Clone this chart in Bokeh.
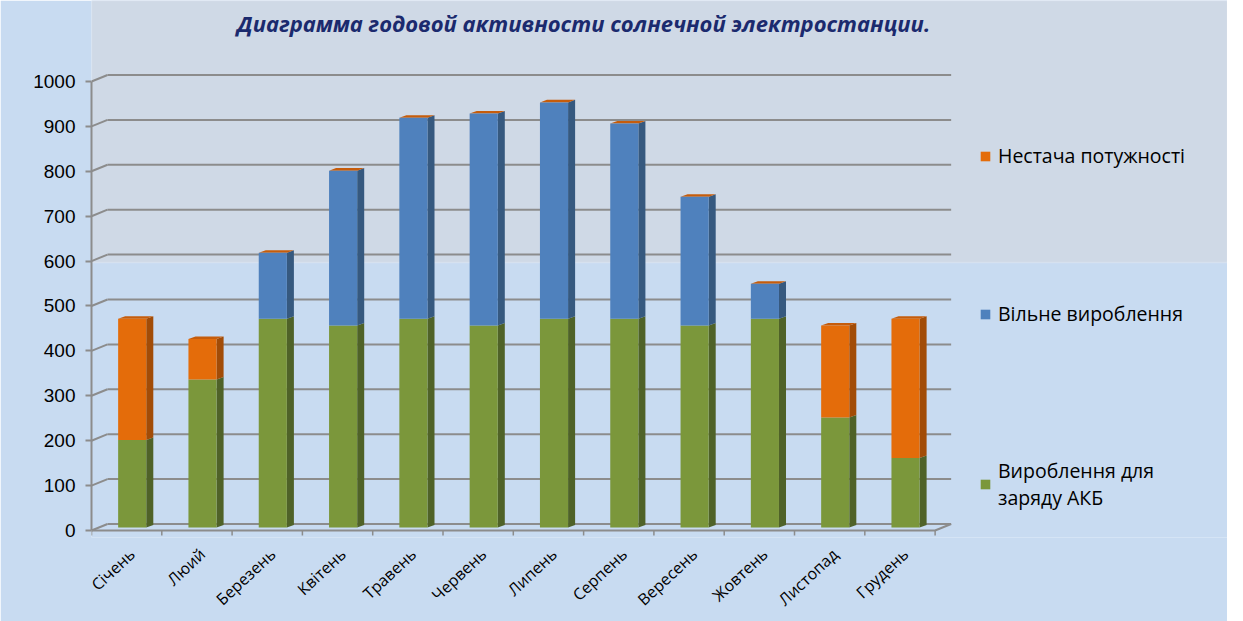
from bokeh.plotting import figure
from bokeh.models import Range1d, FixedTicker, Legend, LegendItem, Label, BoxAnnotation
from bokeh.embed import file_html
from bokeh.resources import INLINE

# ---------------- data ----------------
months = ["Січень", "Люий", "Березень", "Квітень", "Травень", "Червень",
          "Липень", "Серпень", "Вересень", "Жовтень", "Листопад", "Грудень"]
charge = [195, 330, 465, 450, 465, 450, 465, 465, 450, 465, 245, 155]      # Вироблення для заряду АКБ
free = [0, 0, 147, 345, 448, 472, 482, 435, 287, 78, 0, 0]                 # Вільне вироблення
shortage = [270, 90, 0, 0, 0, 0, 0, 0, 0, 0, 205, 310]                     # Нестача потужності
y_ticks = [0, 100, 200, 300, 400, 500, 600, 700, 800, 900, 1000]
series_names = ["Нестача потужності", "Вільне вироблення", "Вироблення для\nзаряду АКБ"]
title_text = "Диаграмма годовой активности солнечной электростанции."

# ---------------- style ----------------
G_FRONT, G_SIDE = "#7b973b", "#4f6228"
B_FRONT, B_SIDE = "#4f81bd", "#36597f"
O_FRONT, O_SIDE, O_TOP = "#e46c0a", "#a24c07", "#c65c0b"
GRID = "#8c8c8c"
SKY = "#c8dbf1"
PANEL = "#cfd9e6"

X0, X1 = -0.579, 15.58
Y0, Y1 = -15.59, 1180.4
HW, SDX, SDY, BO = 0.2, 0.1, 5.6, 6.5       # bar half-width, side depth, base offset
DXW, DYW = 0.228, 14.5                      # wall depth
xL = X0
xR = xL + 12 + DXW

p = figure(frame_width=1136, frame_height=537, output_backend="svg", toolbar_location=None,
           x_range=Range1d(X0, X1), y_range=Range1d(Y0, Y1),
           min_border_left=91, min_border_right=0, min_border_top=0, min_border_bottom=68)
p.background_fill_color = SKY
p.border_fill_color = SKY
p.outline_line_color = None
p.xgrid.grid_line_color = None
p.ygrid.grid_line_color = None

# background band (photo area)
p.add_layout(BoxAnnotation(bottom=597, fill_color=PANEL, fill_alpha=1.0,
                           line_color="#eef3f9", line_width=1.5, level="underlay"))

# back wall grid + left wall connectors
p.segment(x0=[xL + DXW] * len(y_ticks), y0=[v + DYW for v in y_ticks],
          x1=[xR] * len(y_ticks), y1=[v + DYW for v in y_ticks],
          line_color=GRID, line_width=2)
p.segment(x0=[xL] * len(y_ticks), y0=y_ticks,
          x1=[xL + DXW] * len(y_ticks), y1=[v + DYW for v in y_ticks],
          line_color=GRID, line_width=2)
# floor front edge
p.line(x=[xL, xL + 12, xR], y=[0, 0, DYW], line_color=GRID, line_width=2)
p.segment(x0=[xL + k for k in range(13)], y0=[0] * 13,
          x1=[xL + k for k in range(13)], y1=[-11] * 13,
          line_color=GRID, line_width=1.5)

# ---------------- bars ----------------
xs = list(range(len(months)))
g_bot = [BO] * len(xs)
g_top = [BO + c for c in charge]
b_top = [g_top[i] + free[i] for i in xs]
o_top = [b_top[i] + shortage[i] for i in xs]

side_xs, side_ys, side_c = [], [], []
for i in xs:
    for bot, top, col in ((g_bot[i], g_top[i], G_SIDE), (g_top[i], b_top[i], B_SIDE),
                          (b_top[i], o_top[i], O_SIDE)):
        if top > bot:
            xa = i + HW
            side_xs.append([xa, xa + SDX, xa + SDX, xa])
            side_ys.append([bot, bot + SDY, top + SDY, top])
            side_c.append(col)
p.patches(xs=side_xs, ys=side_ys, fill_color=side_c, line_color=None)
p.patches(xs=[[i - HW, i - HW + SDX, i + HW + SDX, i + HW] for i in xs],
          ys=[[o_top[i], o_top[i] + SDY, o_top[i] + SDY, o_top[i]] for i in xs],
          fill_color=O_TOP, line_color=None)

rg = p.vbar(x=xs, width=2 * HW, bottom=g_bot, top=g_top, fill_color=G_FRONT, line_color=None)
rb = p.vbar(x=xs, width=2 * HW, bottom=g_top, top=b_top, fill_color=B_FRONT, line_color=None)
ro = p.vbar(x=xs, width=2 * HW, bottom=b_top, top=o_top, fill_color=O_FRONT, line_color=None)

# ---------------- axes ----------------
p.yaxis.ticker = FixedTicker(ticks=y_ticks)
p.yaxis.bounds = (0, 1000)
p.yaxis.axis_line_color = GRID
p.yaxis.axis_line_width = 2
p.yaxis.major_tick_line_color = GRID
p.yaxis.major_tick_line_width = 2
p.yaxis.major_tick_out = 6
p.yaxis.major_tick_in = 0
p.yaxis.minor_tick_line_color = None
p.yaxis.major_label_standoff = 10
p.yaxis.major_label_text_font = "Liberation Sans"
p.yaxis.major_label_text_font_size = "19px"
p.yaxis.major_label_text_color = "#000000"

p.xaxis.ticker = FixedTicker(ticks=xs)
p.xaxis.major_label_overrides = {i: m for i, m in enumerate(months)}
p.xaxis.major_label_orientation = 0.75
p.xaxis.axis_line_color = None
p.xaxis.major_tick_line_color = None
p.xaxis.minor_tick_line_color = None
p.xaxis.major_label_standoff = 8
p.xaxis.major_label_text_font = "Open Sans"
p.xaxis.major_label_text_font_size = "16px"
p.xaxis.major_label_text_color = "#000000"

# ---------------- title ----------------
p.add_layout(Label(x=6.42, y=1131, text=title_text, text_align="center", text_baseline="middle",
                   text_font="Open Sans", text_font_style="bold italic",
                   text_font_size="22px", text_color="#1b2a6e"))

# ---------------- legends ----------------
def make_legend(name, renderer, loc):
    leg = Legend(items=[LegendItem(label=name, renderers=[renderer])], location=loc,
                 padding=0, margin=0, border_line_color=None, background_fill_alpha=0,
                 glyph_width=12, glyph_height=12, label_height=24, label_standoff=7,
                 label_text_font="Open Sans", label_text_font_size="19.5px",
                 label_text_color="#000000")
    p.add_layout(leg)

make_legend(series_names[0], ro, (888, 368))
make_legend(series_names[1], rb, (888, 210))
make_legend(series_names[2], rg, (888, 26))

open("out.html", "w").write(file_html(p, INLINE))
